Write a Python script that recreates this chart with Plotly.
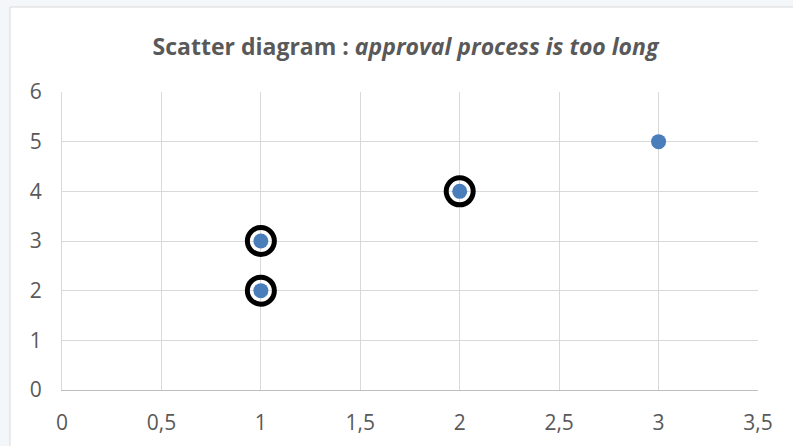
import plotly.graph_objects as go

# Data
x_values = [1, 1, 2, 3]
y_values = [2, 3, 4, 5]
circled_x = [1, 1, 2]
circled_y = [2, 3, 4]
x_ticks = [0, 0.5, 1, 1.5, 2, 2.5, 3, 3.5]
y_ticks = [0, 1, 2, 3, 4, 5, 6]

W, H = 793, 446
L, R, T, B = 62, 35, 92, 56
pw, ph = W - L - R, H - T - B

fig = go.Figure()
fig.add_trace(go.Scatter(
    x=x_values, y=y_values, mode="markers",
    marker=dict(size=15, color="#4a7ebb"),
    hoverinfo="skip", showlegend=False, cliponaxis=False,
))
fig.add_trace(go.Scatter(
    x=circled_x, y=circled_y, mode="markers",
    marker=dict(size=27, color="rgba(0,0,0,0)", line=dict(color="black", width=5)),
    hoverinfo="skip", showlegend=False, cliponaxis=False,
))

# outer frame (light strip at top/left)
fig.add_shape(type="rect", xref="paper", yref="paper",
              x0=(10 - L) / pw, x1=(W + 5 - L) / pw,
              y0=-(H + 5 - T - ph) / ph, y1=(T + ph - 7) / ph,
              fillcolor="white", line=dict(color="#d9d9d9", width=1), layer="below")

font_family = "Open Sans, Liberation Sans, sans-serif"
fig.update_layout(
    width=W, height=H,
    margin=dict(l=L, r=R, t=T, b=B, pad=0, autoexpand=False),
    paper_bgcolor="#f3f7fa",
    plot_bgcolor="rgba(0,0,0,0)",
    separators=", ",
    title=dict(
        text="<b>Scatter diagram : <i>approval process is too long</i></b>",
        x=(405.5 - L) / pw, xref="paper", xanchor="center", y=1 - 47 / H, yanchor="middle",
        font=dict(family=font_family, size=23, color="#595959"),
    ),
    font=dict(family=font_family, size=21, color="#595959"),
    xaxis=dict(
        range=[0, 3.5], tickvals=x_ticks, showgrid=True, gridcolor="#d9d9d9", gridwidth=1,
        zeroline=False, showline=True, linecolor="#bfbfbf", linewidth=1, mirror=False,
        ticks="", ticklabelstandoff=14, fixedrange=True, automargin=False,
    ),
    yaxis=dict(
        range=[0, 6], tickvals=y_ticks, showgrid=True, gridcolor="#d9d9d9", gridwidth=1,
        zeroline=False, showline=True, linecolor="#d9d9d9", linewidth=1,
        ticks="", ticklabelstandoff=15, fixedrange=True, automargin=False,
    ),
)

fig.write_html("out.html", config={"displayModeBar": False},
               post_script="document.body.style.margin='0';document.body.style.overflow='hidden';")
